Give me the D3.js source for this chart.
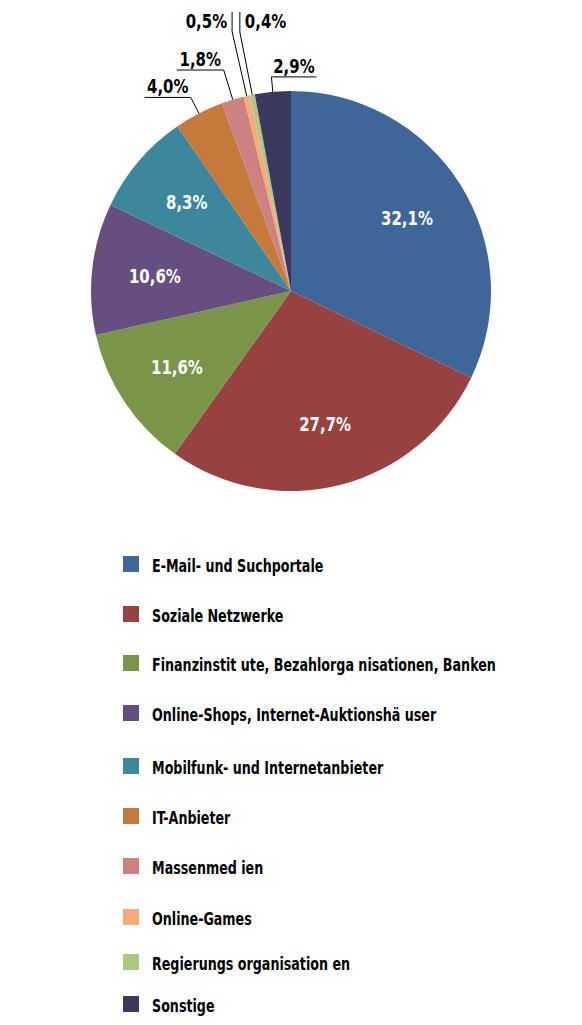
<!DOCTYPE html>
<html>
<head>
<meta charset="utf-8">
<script src="https://cdn.jsdelivr.net/npm/d3@7"></script>
<style>
  html, body { margin: 0; padding: 0; background: #fff; }
  svg { display: block; }
  text { font-family: "Liberation Sans Narrow", "DejaVu Sans Condensed", "Arial Narrow", sans-serif; font-weight: bold; }
</style>
</head>
<body>
<div id="chart"></div>
<script>
// data
const categories = [
  'E-Mail- und Suchportale',
  'Soziale Netzwerke',
  'Finanzinstit ute, Bezahlorga nisationen, Banken',
  'Online-Shops, Internet-Auktionshä user',
  'Mobilfunk- und Internetanbieter',
  'IT-Anbieter',
  'Massenmed ien',
  'Online-Games',
  'Regierungs organisation en',
  'Sonstige'
];
const values = [32.1, 27.7, 11.6, 10.6, 8.3, 4.0, 1.8, 0.5, 0.4, 2.9];
const colors = ['#3f6698', '#974140', '#7a9448', '#664f80', '#3c879c',
                '#c5793a', '#cd8180', '#f8ab79', '#adc785', '#3b385e'];

// layout
const W = 582, H = 1025;
const cx = 291, cy = 291, R = 200;
const squeeze = 0.83;                    // condensed look for the fallback font
const inside = 5;                        // first five slices labelled inside
// outside leaders: elbow radius and which way the label runs
const leaders = {
  5: {r: 218, dir: 'left',  len: 46},
  6: {r: 231, dir: 'left',  len: 47},
  7: {r: 266, dir: 'up',    top: 12, side: 'left'},
  8: {r: 264, dir: 'up',    top: 12, side: 'right'},
  9: {r: 215, dir: 'right', len: 45}
};
const legendY = [564, 614, 663, 713, 766, 816, 866, 917, 962, 1004];

const fmt = v => d3.format('.1f')(v).replace('.', ',') + '%';

// text placed at (x,y), squeezed horizontally around that point
function label(parent, x, y, str, size, fill, anchor) {
  return parent.append('text')
    .attr('transform', `translate(${x},${y}) scale(${squeeze},1)`)
    .attr('text-anchor', anchor || 'start')
    .attr('font-size', size)
    .attr('fill', fill)
    .text(str);
}

const svg = d3.select('#chart').append('svg').attr('width', W).attr('height', H);
const g = svg.append('g').attr('transform', `translate(${cx},${cy})`);

const pie = d3.pie().sort(null).value(d => d)(values);
const arc = d3.arc().innerRadius(0).outerRadius(R);
const labelArc = d3.arc().innerRadius(137).outerRadius(137);

g.selectAll('path.slice').data(pie).join('path')
  .attr('class', 'slice')
  .attr('d', arc)
  .attr('fill', (d, i) => colors[i]);

pie.slice(0, inside).forEach(d => {
  const [x, y] = labelArc.centroid(d);
  label(g, x, y + 7, fmt(d.data), 20, '#fff', 'middle');
});

// leader lines + outside labels
const polar = (a, r) => [r * Math.sin(a), -r * Math.cos(a)];
pie.forEach((d, i) => {
  const L = leaders[i];
  if (!L) return;
  const a = (d.startAngle + d.endAngle) / 2;
  const p0 = polar(a, R), p1 = polar(a, L.r);
  let pts, tx, ty, anchor;
  if (L.dir === 'up') {
    pts = [p0, p1, [p1[0], L.top - cy]];
    anchor = L.side === 'left' ? 'end' : 'start';
    tx = p1[0] + (L.side === 'left' ? -5 : 5);
    ty = 28 - cy;
  } else {
    const sx = L.dir === 'left' ? -L.len : L.len;
    pts = [p0, p1, [p1[0] + sx, p1[1]]];
    anchor = 'middle';
    tx = p1[0] + sx / 2;
    ty = p1[1] - 4;
  }
  g.append('polyline')
    .attr('points', pts.map(p => p.join(',')).join(' '))
    .attr('fill', 'none')
    .attr('stroke', '#000')
    .attr('stroke-width', 1);
  label(g, tx, ty, fmt(d.data), 20, '#000', anchor);
});

// legend
const lg = svg.append('g').selectAll('g').data(categories).join('g')
  .attr('transform', (d, i) => `translate(123,${legendY[i]})`);
lg.append('rect')
  .attr('x', 0).attr('y', -8).attr('width', 16).attr('height', 16)
  .attr('fill', (d, i) => colors[i]);
lg.each(function (d) { label(d3.select(this), 29, 8, d, 17, '#000'); });
</script>
</body>
</html>
